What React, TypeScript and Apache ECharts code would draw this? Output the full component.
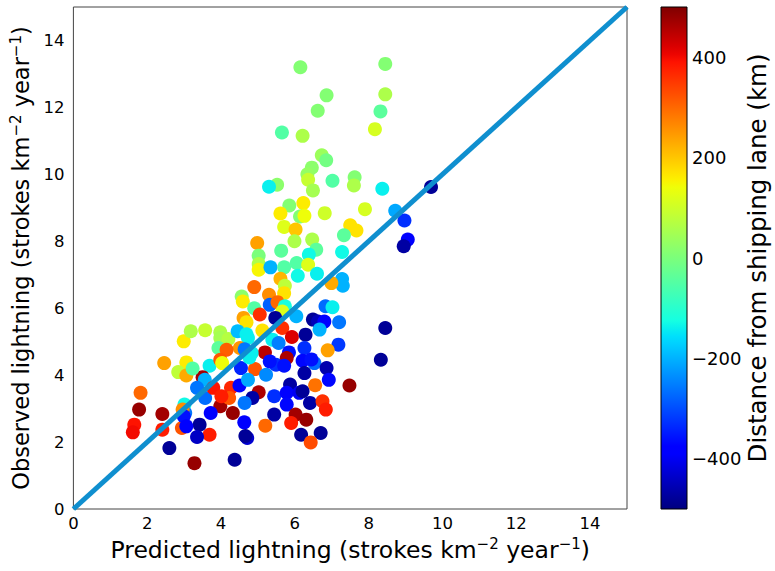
import React, { useEffect, useRef } from 'react';
import * as echarts from 'echarts';

// Predicted lightning (x), observed lightning (y), distance from shipping lane (colour)
const predicted = [
  6.15, 8.45, 6.86, 8.45, 6.62, 8.32, 8.17, 5.65, 6.21, 6.73, 6.85, 6.46, 6.34, 6.36, 7.62, 7.6,
  7.02, 5.52, 5.3, 6.49, 8.37, 9.69, 5.85, 6.23, 5.61, 6.81, 7.9, 6.14, 6.26, 8.72, 8.97, 5.71,
  6.02, 7.5, 7.67, 7.33, 5.99, 6.47, 4.98, 9.06, 8.95, 5.63, 6.58, 6.38, 7.28, 5.02, 5.02, 5.02,
  6.05, 6.36, 5.34, 5.71, 6.08, 6.6, 5.61, 5.73, 7.28, 7.3, 6.99, 4.9, 5.71, 4.56, 4.59, 5.3,
  5.32, 5.53, 4.9, 5.73, 5.66, 6.83, 7.02, 5.05, 5.47, 6.04, 6.49, 6.63, 6.8, 7.2, 4.61, 4.69,
  6.67, 8.45, 5.12, 5.66, 2.99, 3.18, 3.57, 3.98, 3.98, 4.2, 3.93, 4.45, 4.73, 5.92, 6.29, 5.39,
  5.56, 4.51, 5.19, 4.83, 6.26, 7.18, 6.89, 4.15, 5.84, 5.78, 8.33, 6.21, 6.53, 2.46, 3.06, 2.84,
  3.06, 3.69, 3.98, 4.03, 4.54, 4.92, 5.22, 5.49, 5.71, 6.86, 6.92, 6.26, 7.48, 6.55, 3.5, 3.56,
  3.35, 3.57, 3.79, 4.27, 4.5, 4.73, 5.02, 4.85, 4.64, 5.44, 5.87, 5.78, 6.12, 6.41, 6.75, 6.84,
  5.78, 6.02, 6.31, 5.9, 5.44, 5.2, 6.17, 6.7, 6.43, 4.63, 4.71, 4.37, 4.08, 3.98, 4.32, 4.22,
  3.72, 3.69, 3.42, 3.35, 3.28, 2.6, 2.94, 3.01, 3.03, 2.96, 2.41, 2.41, 1.78, 1.82, 1.65, 1.61,
  2.99, 3.23, 4.01, 3.06, 4.66, 4.64, 4.77, 6.45, 5.32, 6.21, 4.69
];
const observed = [
  13.2, 13.3, 12.36, 12.39, 11.9, 11.88, 11.35, 11.25, 11.15, 10.57, 10.42, 10.2, 10.0, 9.84, 9.91, 9.67,
  9.81, 9.69, 9.63, 9.52, 9.57, 9.62, 9.07, 9.14, 8.83, 8.84, 8.96, 8.74, 8.76, 8.91, 8.62, 8.43,
  8.35, 8.48, 8.32, 8.18, 8.0, 8.05, 7.95, 8.05, 7.85, 7.72, 7.75, 7.6, 7.68, 7.57, 7.32, 7.15,
  7.35, 7.3, 7.22, 7.22, 6.97, 7.03, 6.88, 6.67, 6.87, 6.67, 6.75, 6.63, 6.45, 6.35, 6.2, 6.4,
  6.1, 6.18, 6.0, 6.06, 5.9, 6.06, 6.03, 5.81, 5.71, 5.76, 5.66, 5.6, 5.6, 5.58, 5.71, 5.58,
  5.36, 5.41, 5.33, 5.41, 5.01, 5.31, 5.34, 5.28, 5.11, 5.08, 4.81, 5.31, 5.11, 5.14, 5.21, 5.06,
  4.96, 4.81, 4.68, 4.66, 4.81, 4.91, 4.74, 4.76, 4.68, 4.51, 4.46, 4.43, 4.36, 4.36, 4.38, 4.09,
  3.99, 4.28, 4.46, 4.36, 4.21, 4.18, 4.01, 4.31, 4.28, 4.21, 3.86, 4.06, 3.69, 3.7, 3.94, 3.86,
  3.62, 3.32, 3.62, 3.62, 3.69, 3.86, 3.49, 3.32, 3.17, 3.37, 3.72, 3.47, 3.47, 3.17, 3.22, 2.97,
  3.12, 2.82, 2.67, 2.57, 2.82, 2.49, 2.22, 2.27, 1.99, 2.59, 2.12, 1.47, 3.32, 3.07, 2.87, 3.32,
  2.87, 2.22, 2.52, 2.15, 1.37, 1.82, 2.42, 3.12, 2.87, 2.97, 2.84, 2.37, 2.97, 3.47, 2.52, 2.29,
  2.77, 4.2, 3.37, 2.47, 2.18, 4.77, 4.53, 4.47, 4.41, 3.52, 5.22
];
const distance = [
  10, 10, 10, 60, 10, -40, 110, -50, 60, 40, -10, 20, 30, 90, 10, 60,
  -50, 20, -140, 50, -140, -480, 10, 160, 160, 100, 110, 10, 140, -210, -330, 120,
  200, 170, 170, -40, 60, 60, 240, -380, -470, -40, -40, -130, -130, 0, 60, 150,
  -50, 120, -200, -50, -130, -140, 220, 80, -200, -200, 230, 300, 170, 20, 160, 260,
  -280, 300, -50, -120, 120, -270, -140, 360, -480, -200, -480, -450, -380, -260, 240, 170,
  -200, -480, 170, 360, 160, 60, 90, 60, 50, 70, -40, -190, -140, 420, -480, -140,
  -250, 250, 450, -140, -330, -320, 240, 310, -360, 460, -480, -370, -270, 240, 160, 80,
  230, -140, 320, 140, -340, 320, -240, -330, -360, -460, -370, -470, 480, 290, 470, -200,
  -260, -270, 390, 370, -380, -210, 460, -470, -260, -330, -470, -380, -400, -470, 360, 380,
  -370, 470, 480, 380, -470, 300, -480, -480, 330, -380, -430, -480, 470, 470, 480, 320,
  -380, 380, -480, -440, 480, -480, 320, -130, -260, 260, 470, 380, 480, 300, 390, 400,
  -360, -50, 380, -380, -480, -260, -140, -360, -360, -480, -140
];
const oneToOneX = [0, 15];
const oneToOneY = [0, 15];
const colorbarRange = [-500, 500];

const FONT = 'DejaVu Sans';

function jet(t: number): string {
  const seg = (pts: number[][]) => {
    for (let i = 1; i < pts.length; i++) {
      if (t <= pts[i][0]) {
        const [x0, y0] = pts[i - 1];
        const [x1, y1] = pts[i];
        return y0 + ((t - x0) / (x1 - x0)) * (y1 - y0);
      }
    }
    return pts[pts.length - 1][1];
  };
  const r = seg([[0, 0], [0.35, 0], [0.66, 1], [0.89, 1], [1, 0.5]]);
  const g = seg([[0, 0], [0.125, 0], [0.375, 1], [0.64, 1], [0.91, 0], [1, 0]]);
  const b = seg([[0, 0.5], [0.11, 1], [0.34, 1], [0.65, 0], [1, 0]]);
  const h = (v: number) => Math.round(Math.max(0, Math.min(1, v)) * 255).toString(16).padStart(2, '0');
  return '#' + h(r) + h(g) + h(b);
}

const N = 64;
const jetColors: string[] = [];
for (let i = 0; i <= N; i++) jetColors.push(jet(i / N));

export default function App() {
  const ref = useRef<HTMLDivElement>(null);
  useEffect(() => {
    if (!ref.current) return;
    const chart = echarts.init(ref.current, null, { renderer: 'svg' });
    const scatterData = predicted.map((x, i) => [x, observed[i], distance[i]]);
    const gradStops = jetColors.map((c, i) => ({ offset: i / N, color: c }));
    const supRich = (size: number) => ({
      s: { fontSize: size, fontFamily: FONT, color: '#000', padding: [0, 0, 11, 0] },
    });
    const option: any = {
      animation: false,
      backgroundColor: '#fff',
      textStyle: { fontFamily: FONT },
      grid: [
        { left: 73, top: 7, width: 554, height: 502, show: true, borderColor: '#444', borderWidth: 1, backgroundColor: 'transparent' },
        { left: 661, top: 7, width: 26, height: 502, show: false },
      ],
      xAxis: [
        {
          gridIndex: 0, type: 'value', min: 0, max: 15, interval: 2,
          axisLine: { show: false }, axisTick: { show: false }, splitLine: { show: false },
          axisLabel: { fontSize: 16.5, fontFamily: FONT, color: '#000', margin: 6, formatter: (v: number) => (v > 14.5 ? '' : String(v)) },
          name: 'Predicted lightning (strokes km{s|−2} year{s|−1})',
          nameLocation: 'middle', nameGap: 27,
          nameTextStyle: { fontSize: 23.5, fontFamily: FONT, color: '#000', rich: supRich(15) },
        },
        { gridIndex: 1, type: 'value', min: 0, max: 1, show: false },
      ],
      yAxis: [
        {
          gridIndex: 0, type: 'value', min: 0, max: 15, interval: 2,
          axisLine: { show: false }, axisTick: { show: false }, splitLine: { show: false },
          axisLabel: { fontSize: 16.5, fontFamily: FONT, color: '#000', margin: 9, formatter: (v: number) => (v > 14.5 ? '' : String(v)) },
          name: 'Observed lightning (strokes km{s|−2} year{s|−1})',
          nameLocation: 'middle', nameGap: 32, nameRotate: 90,
          nameTextStyle: { fontSize: 22.5, fontFamily: FONT, color: '#000', rich: supRich(15) },
        },
        {
          gridIndex: 1, type: 'value', min: colorbarRange[0], max: colorbarRange[1], interval: 100, position: 'right',
          axisLine: { show: false }, axisTick: { show: false }, splitLine: { show: false },
          axisLabel: {
            fontSize: 18, fontFamily: FONT, color: '#000', margin: 5,
            formatter: (v: number) => (Math.abs(v) <= 400 && v % 200 === 0 ? (v < 0 ? '−' + Math.abs(v) : String(v)) : ''),
          },
          name: 'Distance from shipping lane (km)',
          nameLocation: 'middle', nameGap: 55, nameRotate: 90,
          nameTextStyle: { fontSize: 24.5, fontFamily: FONT, color: '#000' },
        },
      ],
      visualMap: {
        type: 'continuous', show: false, min: colorbarRange[0], max: colorbarRange[1],
        dimension: 2, seriesIndex: 0, inRange: { color: jetColors },
      },
      series: [
        {
          type: 'scatter', xAxisIndex: 0, yAxisIndex: 0, data: scatterData,
          symbolSize: 14, itemStyle: { opacity: 1 }, z: 2,
        },
        {
          type: 'line', xAxisIndex: 0, yAxisIndex: 0,
          data: oneToOneX.map((x, i) => [x, oneToOneY[i]]),
          symbol: 'none', lineStyle: { color: '#0f8fcf', width: 5 }, z: 3,
          silent: true,
        },
        {
          type: 'custom', xAxisIndex: 1, yAxisIndex: 1, data: [[0]],
          renderItem: (params: any, api: any) => {
            const p0 = api.coord([0, colorbarRange[1]]);
            const p1 = api.coord([1, colorbarRange[0]]);
            return {
              type: 'rect',
              shape: { x: p0[0], y: p0[1], width: p1[0] - p0[0], height: p1[1] - p0[1] },
              style: {
                fill: new echarts.graphic.LinearGradient(0, 1, 0, 0, gradStops),
                stroke: '#000', lineWidth: 1,
              },
            };
          },
          silent: true,
        },
      ],
    };
    chart.setOption(option);
    return () => chart.dispose();
  }, []);
  return <div ref={ref} style={{ width: 775, height: 571, position: 'absolute', left: 0, top: 0 }} />;
}
